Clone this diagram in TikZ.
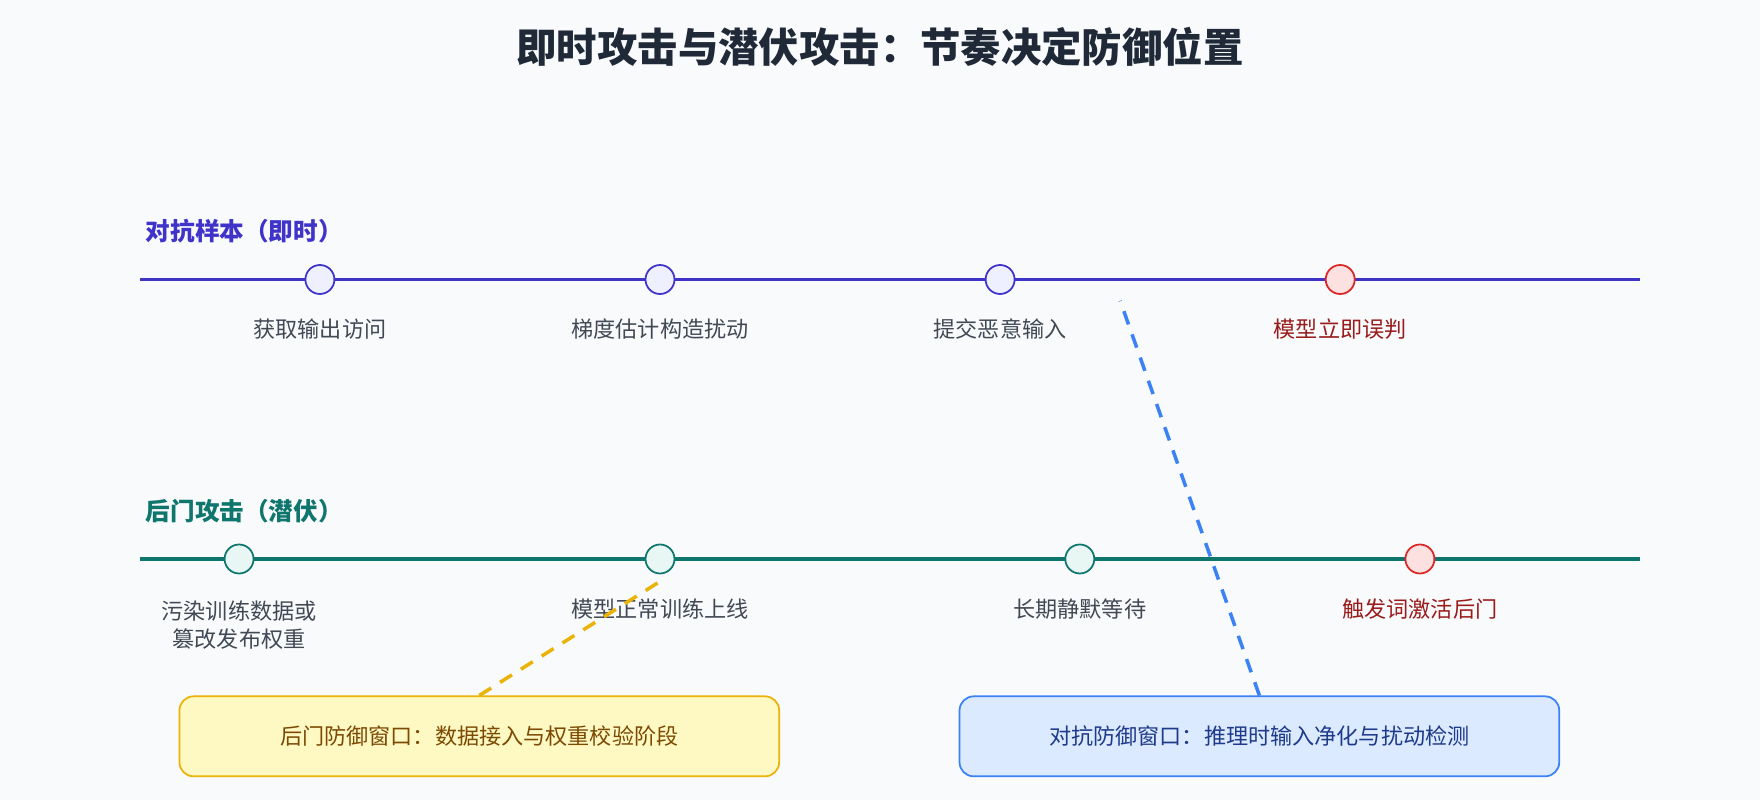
\documentclass[tikz,border=0pt]{standalone}
\usepackage{fontspec}
\setmainfont{Noto Sans CJK SC}
\usetikzlibrary{positioning}
\definecolor{bgc}{HTML}{F8FAFC}
\definecolor{ink}{HTML}{1F2937}
\definecolor{advc}{HTML}{3F33C9}
\definecolor{advf}{HTML}{EEF0FF}
\definecolor{bdc}{HTML}{0F766E}
\definecolor{bdf}{HTML}{E8F7F3}
\definecolor{hitc}{HTML}{DC2626}
\definecolor{hitf}{HTML}{FDE0E0}
\definecolor{hitt}{HTML}{991B1B}
\definecolor{yelf}{HTML}{FEF9C3}
\definecolor{yelc}{HTML}{EAB308}
\definecolor{yelt}{HTML}{7C4A03}
\definecolor{bluf}{HTML}{DBEAFE}
\definecolor{bluc}{HTML}{3B82F6}
\definecolor{blut}{HTML}{1E3A8A}
\begin{document}
\begin{tikzpicture}[x=0.011224cm,y=-0.011224cm,
  dotA/.style={circle,draw=advc,fill=advf,line width=0.5pt,minimum size=0.29cm,inner sep=0pt},
  dotB/.style={circle,draw=bdc,fill=bdf,line width=0.5pt,minimum size=0.29cm,inner sep=0pt},
  dotX/.style={circle,draw=hitc,fill=hitf,line width=0.5pt,minimum size=0.29cm,inner sep=0pt},
  stage/.style={text=ink!85,font=\fontsize{6.3}{8}\selectfont,align=center},
  lane/.style={font=\bfseries\fontsize{7}{9}\selectfont,anchor=west},
  win/.style={rounded corners=4pt,line width=0.5pt,minimum width=6.0cm,minimum height=0.8cm,font=\fontsize{6.3}{8}\selectfont}]
  \fill[bgc] (0,0) rectangle (1568,713);
  \useasboundingbox (0,0) rectangle (1568,713);
  \node[font=\bfseries\fontsize{11.5}{14}\selectfont,text=ink] (title) at (784,42) {即时攻击与潜伏攻击：节奏决定防御位置};
  % adversarial lane
  \node[lane,text=advc] (advlbl) at (119,206) {对抗样本（即时）};
  \coordinate (a0) at (125,249);
  \coordinate (a9) at (1461,249);
  \draw[advc,line width=1.1pt] (a0) -- (a9);
  \node[dotA] (a1) at (285,249) {};
  \node[dotA] (a2) at (588,249) {};
  \node[dotA] (a3) at (891,249) {};
  \node[dotX] (a4) at (1194,249) {};
  \node[stage] at (285,293) {获取输出访问};
  \node[stage] at (588,293) {梯度估计构造扰动};
  \node[stage] at (891,293) {提交恶意输入};
  \node[stage,text=hitt] at (1194,293) {模型立即误判};
  % backdoor lane
  \node[lane,text=bdc] (bdlbl) at (119,455) {后门攻击（潜伏）};
  \coordinate (b0) at (125,498);
  \coordinate (b9) at (1461,498);
  \draw[bdc,line width=1.1pt] (b0) -- (b9);
  \node[dotB] (b1) at (213,498) {};
  \node[dotB] (b2) at (588,498) {};
  \node[dotB] (b3) at (962,498) {};
  \node[dotX] (b4) at (1265,498) {};
  \node[stage] at (213,557) {污染训练数据或\\篡改发布权重};
  \node[stage] at (588,543) {模型正常训练上线};
  \node[stage] at (962,543) {长期静默等待};
  \node[stage,text=hitt] at (1265,543) {触发词激活后门};
  % defence windows
  \node[win,draw=yelc,fill=yelf,text=yelt] (wb) at (427,656) {后门防御窗口：数据接入与权重校验阶段};
  \node[win,draw=bluc,fill=bluf,text=blut] (wa) at (1122,656) {对抗防御窗口：推理时输入净化与扰动检测};
  \coordinate (pb) at (588,518);
  \coordinate (pa) at (998,268);
  \draw[yelc,line width=1pt,dash pattern=on 4pt off 3pt] (wb.north) -- (pb);
  \draw[bluc,line width=1pt,dash pattern=on 4pt off 3pt] (wa.north) -- (pa);
\end{tikzpicture}
\end{document}
